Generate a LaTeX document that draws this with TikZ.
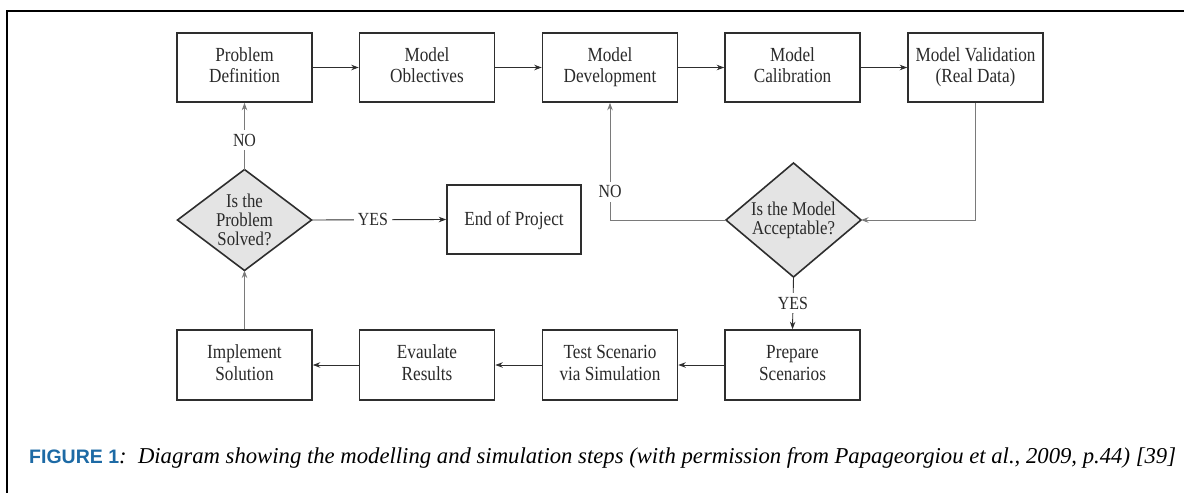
\documentclass[tikz,border=0pt]{standalone}
\usepackage{fontspec}
\setmainfont{Liberation Serif}
\newfontfamily\diafont[FakeStretch=0.86]{Liberation Serif}
\newfontfamily\capsans{Liberation Sans}
\usetikzlibrary{shapes.geometric,arrows.meta}
\definecolor{boxline}{HTML}{2E2E2E}
\definecolor{loopc}{HTML}{7A7A7A}
\definecolor{dfill}{HTML}{E4E4E4}
\definecolor{txt}{HTML}{2A2A2A}
\definecolor{capblue}{HTML}{1D6AA5}
\newcommand{\topstrut}{\rule{0pt}{16pt}}
\newcommand{\botstrut}{\rule[-4.5pt]{0pt}{4.5pt}}
\begin{document}
\begin{tikzpicture}[x=1pt,y=-1pt,
  stepbox/.style={draw=boxline, line width=1.6pt, minimum width=135pt, minimum height=69pt,
    inner sep=0pt, align=center, text=txt, font=\diafont\fontsize{20}{21.5}\selectfont,
    execute at begin node=\topstrut, execute at end node=\botstrut},
  decision/.style={diamond, draw=boxline, line width=1.6pt, fill=dfill, inner sep=0pt, outer sep=0pt},
  dtext/.style={align=center, text=txt, font=\diafont\fontsize{19.5}{19}\selectfont},
  tip/.style={-{Stealth[length=7.5pt,width=5.5pt]}},
  flow/.style={draw=boxline, line width=0.9pt, tip},
  loopline/.style={draw=loopc, line width=0.9pt, tip},
  lbl/.style={fill=white, inner sep=4pt, text=txt, font=\diafont\fontsize{18.5}{20}\selectfont}
]
\useasboundingbox (0,0) rectangle (1184,493);
% frame
\draw[line width=2pt, black] (1184,11) -- (7,11) -- (7,493);

% top row
\node[stepbox] (pd) at (244.5,67.5) {Problem\\Definition};
\node[stepbox] (mo) at (427,67.5) {Model\\Oblectives};
\node[stepbox] (md) at (610,67.5) {Model\\Development};
\node[stepbox] (mc) at (792.5,67.5) {Model\\Calibration};
\node[stepbox] (mv) at (975.5,67.5) {Model Validation\\(Real Data)};

% middle row
\node[decision, minimum width=134pt, minimum height=101pt,
  label={[dtext]center:Is the\\Problem\\Solved?}] (d1) at (244.5,220) {};
\node[stepbox, minimum width=134pt] (eop) at (514,219.5) {End of Project};
\node[decision, minimum width=135pt, minimum height=114pt,
  label={[dtext]center:Is the Model\\Acceptable?}] (d2) at (793.5,220) {};

% bottom row
\node[stepbox, minimum height=70pt] (is) at (244.5,365) {Implement\\Solution};
\node[stepbox, minimum height=70pt] (er) at (427,365) {Evaulate\\Results};
\node[stepbox, minimum height=70pt] (ts) at (610,365) {Test Scenario\\via Simulation};
\node[stepbox, minimum height=70pt] (ps) at (792.5,365) {Prepare\\Scenarios};

% connectors
\draw[flow] (pd) -- (mo);
\draw[flow] (mo) -- (md);
\draw[flow] (md) -- (mc);
\draw[flow] (mc) -- (mv);
\draw[loopline] (mv.south) |- (d2.east);
\draw[loopline] (d2.west) -| node[lbl, pos=0.62] {NO} (md.south);
\draw[flow] (d2.south) -- node[lbl] {YES} (ps.north);
\draw[flow] (ps) -- (ts);
\draw[flow] (ts) -- (er);
\draw[flow] (er) -- (is);
\draw[loopline] (is.north) -- (d1.south);
\draw[loopline] (d1.north) -- node[lbl, pos=0.44] {NO} (pd.south);
\draw[flow] (d1.east) -- node[lbl, pos=0.456] {YES} (eop.west);

% caption
\node[anchor=base west, inner sep=0pt] (cap) at (29,463)
  {{\capsans\bfseries\fontsize{19.5}{22}\selectfont\color{capblue}FIGURE 1}{\fontsize{22.7}{25}\selectfont\itshape :\hspace{0.5em}Diagram showing the modelling and simulation steps (with permission from Papageorgiou et al., 2009, p.44) [39]}};
\end{tikzpicture}
\end{document}
